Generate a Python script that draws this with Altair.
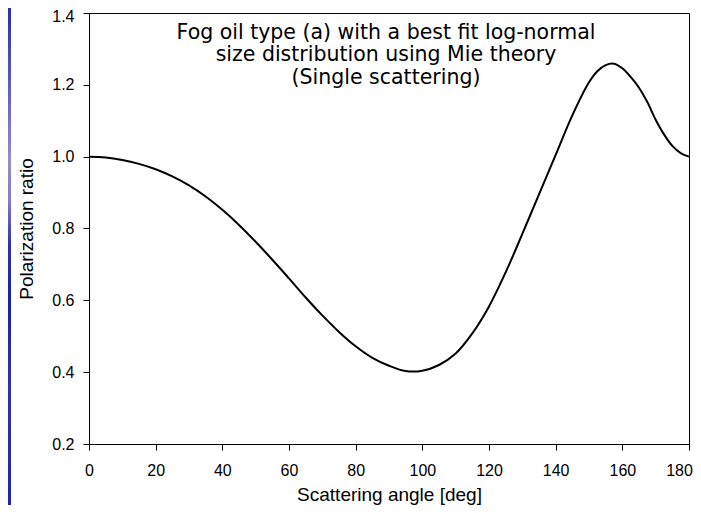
import altair as alt
import pandas as pd

# ---- data ----
angles = [0, 5, 10, 15, 20, 25, 30, 35, 40, 45, 50, 55, 60, 65, 70, 75, 80, 85, 90,
          95, 100, 105, 110, 115, 120, 125, 130, 135, 140, 145, 150, 152.5, 155,
          157.5, 160, 162.5, 165, 167.5, 170, 172.5, 175, 177.5, 180]
ratios = [1.000, 0.998, 0.991, 0.980, 0.965, 0.945, 0.920, 0.889, 0.852, 0.810,
          0.763, 0.713, 0.661, 0.608, 0.558, 0.512, 0.472, 0.440, 0.418, 0.403,
          0.404, 0.420, 0.452, 0.508, 0.583, 0.678, 0.785, 0.895, 1.005, 1.115,
          1.207, 1.238, 1.255, 1.259, 1.246, 1.222, 1.192, 1.152, 1.103, 1.062,
          1.030, 1.010, 1.000]
x_ticks = [0, 20, 40, 60, 80, 100, 120, 140, 160, 180]
y_ticks = [0.2, 0.4, 0.6, 0.8, 1.0, 1.2, 1.4]
title_lines = ["Fog oil type (a) with a best fit log-normal",
               "size distribution using Mie theory",
               "(Single scattering)"]
x_title = "Scattering angle [deg]"
y_title = "Polarization ratio"

FONT = "Liberation Sans"

df = pd.DataFrame({"angle": angles, "ratio": ratios})

curve = alt.Chart(df).mark_line(color="black", strokeWidth=2, interpolate="catmull-rom").encode(
    x=alt.X("angle:Q",
            scale=alt.Scale(domain=[0, 180], nice=False, zero=False),
            axis=alt.Axis(values=x_ticks, format="d", title=x_title, grid=False,
                          ticks=True, tickSize=6, labelPadding=12, labelFlush=False,
                          labelOffset={"condition": {"test": "datum.value >= 180", "value": -10},
                                       "value": 0},
                          titleX=300, titleY=56, titleBaseline="alphabetic",
                          titleAlign="center")),
    y=alt.Y("ratio:Q",
            scale=alt.Scale(domain=[0.2, 1.4], nice=False, zero=False),
            axis=alt.Axis(values=y_ticks, format=".1f", title=y_title, grid=False,
                          ticks=True, tickSize=6, labelPadding=9, labelFlush=False,
                          labelOffset={"condition": {"test": "datum.value >= 1.39", "value": 3.5},
                                       "value": 0},
                          titleX=-57, titleY=215.5, titleAngle=-90,
                          titleBaseline="alphabetic", titleAlign="center")),
)

layers = [curve]
for i, line in enumerate(title_lines):
    layers.append(
        alt.Chart(pd.DataFrame({"t": [line]})).mark_text(
            font="DejaVu Sans", fontSize=20.5, align="center", baseline="alphabetic",
            color="black"
        ).encode(text="t:N", x=alt.value(297), y=alt.value(26 + 22.3 * i))
    )

stripe = alt.Chart(pd.DataFrame({"s": [0]})).mark_rect(
    color=alt.LinearGradient(
        gradient="linear", x1=0, y1=0, x2=0, y2=1,
        stops=[alt.GradientStop(color="#2d2db0", offset=0),
               alt.GradientStop(color="#5252b8", offset=0.12),
               alt.GradientStop(color="#8f8fd0", offset=0.3),
               alt.GradientStop(color="#8080c8", offset=0.38),
               alt.GradientStop(color="#3030ae", offset=0.47),
               alt.GradientStop(color="#1e1ea5", offset=0.58),
               alt.GradientStop(color="#3232ac", offset=0.75),
               alt.GradientStop(color="#2222a8", offset=1)])
).encode(x=alt.value(-81), x2=alt.value(-78), y=alt.value(-5), y2=alt.value(500))
layers.append(stripe)

chart = alt.layer(*layers).properties(
    width=600, height=431,
    padding={"left": 81, "top": 5, "right": 4, "bottom": 61},
    autosize=alt.AutoSizeParams(type="none"),
).configure_view(
    stroke="black", strokeWidth=1
).configure_axis(
    domainColor="black", domainWidth=1, tickColor="black", tickWidth=1,
    labelColor="black", labelFont=FONT, labelFontSize=16,
    titleColor="black", titleFont=FONT, titleFontSize=19, titleFontWeight="normal",
)

chart.save("out.html", embed_options={"renderer": "svg", "actions": False})
